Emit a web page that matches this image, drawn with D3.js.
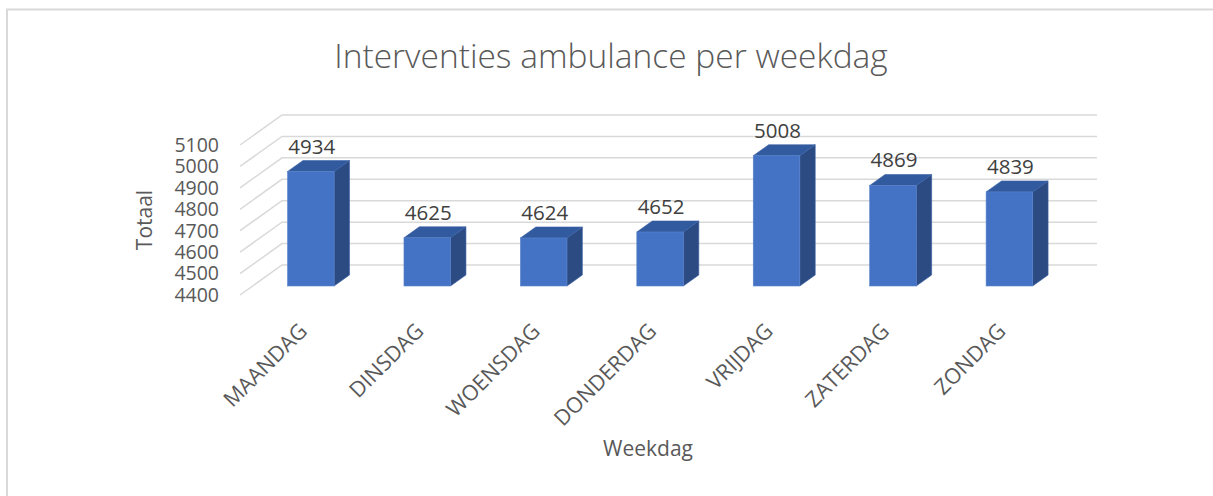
<!DOCTYPE html>
<html>
<head>
<meta charset="utf-8">
<script src="https://cdn.jsdelivr.net/npm/d3@7"></script>
<style>
    body { margin: 0; background: #ffffff; }
    svg text { font-family: "Open Sans", "DejaVu Sans", sans-serif; fill: #595959; }
</style>
</head>
<body>
<div id="chart"></div>
<script>
// data
var days = ["MAANDAG", "DINSDAG", "WOENSDAG", "DONDERDAG", "VRIJDAG", "ZATERDAG", "ZONDAG"];
var totals = [4934, 4625, 4624, 4652, 5008, 4869, 4839];
var yTicks = [4400, 4500, 4600, 4700, 4800, 4900, 5000, 5100];

var width = 1213,
    height = 496;

// oblique 3d: depth goes up and to the right
var depth = { dx: 42, dy: -30 };
var barFront = 0.3,
    barBack = 0.667;

function off(t) {
    return [depth.dx * t, depth.dy * t];
}

var svg = d3.select("#chart").append("svg")
    .attr("width", width)
    .attr("height", height);

// chart border
svg.append("rect")
    .attr("x", 7)
    .attr("y", 9.5)
    .attr("width", width)
    .attr("height", height)
    .attr("fill", "none")
    .attr("stroke", "#d9d9d9")
    .attr("stroke-width", 2);

// scales (front plane, where the tick labels sit)
var x = d3.scaleBand()
    .domain(days)
    .range([240, 1055]);

var y = d3.scaleLinear()
    .domain([4400, 5100])
    .range([295, 145]);

// gridlines: side wall + back wall
var wall = off(1);
svg.append("g")
    .selectAll("path")
    .data(yTicks)
    .enter().append("path")
    .attr("d", function (d) {
        var y0 = y(d);
        return "M" + x.range()[0] + "," + y0 +
            "L" + (x.range()[0] + wall[0]) + "," + (y0 + wall[1]) +
            "L" + (x.range()[1] + wall[0]) + "," + (y0 + wall[1]);
    })
    .attr("fill", "none")
    .attr("stroke", "#d9d9d9")
    .attr("stroke-width", 1.5);

// y tick labels
svg.append("g")
    .selectAll("text")
    .data(yTicks)
    .enter().append("text")
    .attr("x", 219)
    .attr("y", function (d) { return y(d); })
    .attr("dy", "0.35em")
    .attr("text-anchor", "end")
    .attr("font-size", 19.5)
    .text(function (d) { return d; });

// bars
var bw = x.bandwidth() * 0.4;
var f = off(barFront),
    b = off(barBack);
var base = y.domain()[0];

var bars = svg.append("g")
    .selectAll("g")
    .data(days.map(function (d, i) { return { day: d, value: totals[i] }; }))
    .enter().append("g");

// side face
bars.append("path")
    .attr("d", function (d) {
        var xr = x(d.day) + x.bandwidth() / 2 + bw / 2;
        var yt = y(d.value), yb = y(base);
        return "M" + (xr + f[0]) + "," + (yt + f[1]) +
            "L" + (xr + b[0]) + "," + (yt + b[1]) +
            "L" + (xr + b[0]) + "," + (yb + b[1]) +
            "L" + (xr + f[0]) + "," + (yb + f[1]) + "Z";
    })
    .attr("fill", "#2b4b82")
    .attr("stroke", "#3a62a8")
    .attr("stroke-width", 0.6);

// top face
bars.append("path")
    .attr("d", function (d) {
        var xl = x(d.day) + x.bandwidth() / 2 - bw / 2;
        var xr = xl + bw;
        var yt = y(d.value);
        return "M" + (xl + f[0]) + "," + (yt + f[1]) +
            "L" + (xr + f[0]) + "," + (yt + f[1]) +
            "L" + (xr + b[0]) + "," + (yt + b[1]) +
            "L" + (xl + b[0]) + "," + (yt + b[1]) + "Z";
    })
    .attr("fill", "#325a9e")
    .attr("stroke", "#3a62a8")
    .attr("stroke-width", 0.6);

// front face
bars.append("rect")
    .attr("x", function (d) { return x(d.day) + x.bandwidth() / 2 - bw / 2 + f[0]; })
    .attr("y", function (d) { return y(d.value) + f[1]; })
    .attr("width", bw)
    .attr("height", function (d) { return y(base) - y(d.value); })
    .attr("fill", "#4472c4")
    .attr("stroke", "#5b84cc")
    .attr("stroke-width", 0.6);

// data labels
bars.append("text")
    .attr("x", function (d) { return x(d.day) + x.bandwidth() / 2 + f[0] + 1; })
    .attr("y", function (d) { return y(d.value) + b[1] - 7; })
    .attr("text-anchor", "middle")
    .attr("font-size", 20.5)
    .style("fill", "#404040")
    .text(function (d) { return d.value; });

// category labels
svg.append("g")
    .selectAll("text")
    .data(days)
    .enter().append("text")
    .attr("transform", function (d) {
        return "translate(" + (x(d) + x.bandwidth() / 2 + 5) + ",327) rotate(-45)";
    })
    .attr("dy", "0.35em")
    .attr("text-anchor", "end")
    .attr("font-size", 21.5)
    .text(function (d) { return d; });

// title
svg.append("text")
    .attr("x", 611)
    .attr("y", 68)
    .attr("text-anchor", "middle")
    .attr("font-size", 33.5)
    .attr("font-weight", 300)
    .text("Interventies ambulance per weekdag");

// axis titles
svg.append("text")
    .attr("transform", "translate(152,220) rotate(-90)")
    .attr("text-anchor", "middle")
    .attr("font-size", 21)
    .text("Totaal");

svg.append("text")
    .attr("x", 648)
    .attr("y", 456)
    .attr("text-anchor", "middle")
    .attr("font-size", 21)
    .text("Weekdag");
</script>
</body>
</html>
